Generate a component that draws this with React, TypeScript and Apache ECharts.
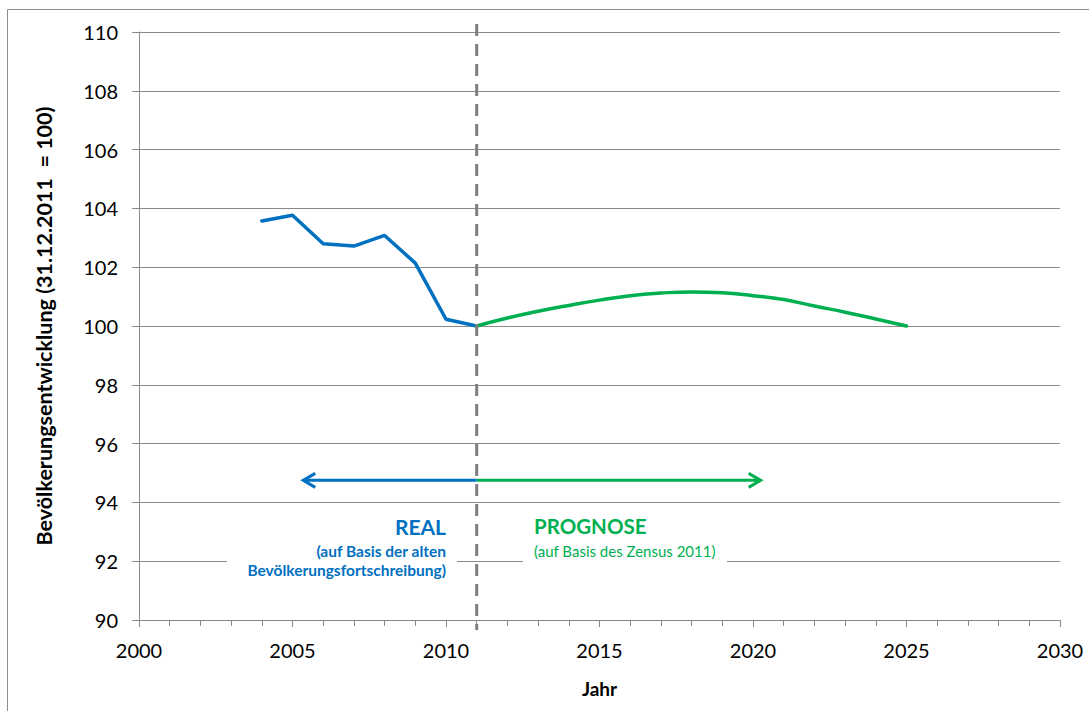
import React, { useEffect, useRef } from "react";
import * as echarts from "echarts";

const realYears = [2004, 2005, 2006, 2007, 2008, 2009, 2010, 2011];
const realValues = [103.57, 103.77, 102.8, 102.72, 103.08, 102.14, 100.23, 100.0];

const prognoseYears = [2011, 2012, 2013, 2014, 2015, 2016, 2017, 2018, 2019, 2020, 2021, 2022, 2023, 2024, 2025];
const prognoseValues = [100.0, 100.27, 100.5, 100.7, 100.88, 101.03, 101.12, 101.16, 101.13, 101.03, 100.9, 100.68, 100.47, 100.24, 100.0];

const dividerYear = 2011;
const arrowLevel = 94.75;
const arrowStarts = [2011, 2011];
const arrowEnds = [2005.35, 2020.25];

const xMin = 2000;
const xMax = 2030;
const xStep = 5;
const yMin = 90;
const yMax = 110;
const yStep = 2;

const BLUE = "#0070c0";
const GREEN = "#00b050";
const GREY = "#8a8a8a";
const FONT = "Lato";

export default function App() {
  const ref = useRef<HTMLDivElement>(null);

  useEffect(() => {
    if (!ref.current) return;
    const chart = echarts.init(ref.current, undefined, { renderer: "svg" });
    const arrowColors = [BLUE, GREEN];

    chart.setOption({
      animation: false,
      backgroundColor: "#ffffff",
      textStyle: { fontFamily: FONT },
      grid: { left: 139, right: 29, top: 32, bottom: 91, containLabel: false },
      xAxis: {
        type: "value",
        min: xMin,
        max: xMax,
        interval: xStep,
        name: "Jahr",
        nameLocation: "middle",
        nameGap: 59,
        nameTextStyle: { fontFamily: FONT, fontWeight: "bold", fontSize: 19, color: "#000" },
        axisLine: { show: true, onZero: false, lineStyle: { color: GREY, width: 1 } },
        axisTick: { show: true, length: 7, lineStyle: { color: GREY } },
        minorTick: { show: true, splitNumber: 5, length: 6, lineStyle: { color: GREY } },
        splitLine: { show: false },
        axisLabel: {
          fontFamily: FONT,
          fontSize: 20,
          color: "#000",
          margin: 20,
          formatter: (v: number) => String(v),
        },
      },
      yAxis: {
        type: "value",
        min: yMin,
        max: yMax,
        interval: yStep,
        name: "Bevölkerungsentwicklung (31.12.2011  = 100)",
        nameLocation: "middle",
        nameGap: 84,
        nameTextStyle: { fontFamily: FONT, fontWeight: "bold", fontSize: 21.5, color: "#000" },
        axisLine: { show: true, lineStyle: { color: GREY, width: 1 } },
        axisTick: { show: true, length: 7, lineStyle: { color: GREY } },
        splitLine: { show: true, lineStyle: { color: GREY, width: 1 } },
        axisLabel: { fontFamily: FONT, fontSize: 20, color: "#000", margin: 21 },
      },
      graphic: [
        {
          type: "rect",
          z: 5,
          shape: { x: 7.5, y: 9.5, width: 1200, height: 800 },
          style: { fill: "none", stroke: "#8c8c8c", lineWidth: 1 },
          silent: true,
        },
        {
          type: "rect",
          z: 5,
          shape: { x: 227, y: 510, width: 230, height: 78 },
          style: { fill: "#ffffff" },
        },
        {
          type: "rect",
          z: 5,
          shape: { x: 523, y: 510, width: 204, height: 78 },
          style: { fill: "#ffffff" },
        },
        {
          type: "text",
          z: 6,
          x: 446,
          y: 526,
          style: {
            text: "REAL",
            fill: BLUE,
            font: `bold 21px ${FONT}`,
            textAlign: "right",
            textVerticalAlign: "middle",
          },
        },
        {
          type: "text",
          z: 6,
          x: 446,
          y: 551,
          style: {
            text: "(auf Basis der alten",
            fill: BLUE,
            font: `bold 15.5px ${FONT}`,
            textAlign: "right",
            textVerticalAlign: "middle",
          },
        },
        {
          type: "text",
          z: 6,
          x: 446,
          y: 570,
          style: {
            text: "Bevölkerungsfortschreibung)",
            fill: BLUE,
            font: `bold 15.5px ${FONT}`,
            textAlign: "right",
            textVerticalAlign: "middle",
          },
        },
        {
          type: "text",
          z: 6,
          x: 534,
          y: 526,
          style: {
            text: "PROGNOSE",
            fill: GREEN,
            font: `bold 20.5px ${FONT}`,
            textAlign: "left",
            textVerticalAlign: "middle",
          },
        },
        {
          type: "text",
          z: 6,
          x: 534,
          y: 551,
          style: {
            text: "(auf Basis des Zensus 2011)",
            fill: GREEN,
            font: `15px ${FONT}`,
            textAlign: "left",
            textVerticalAlign: "middle",
          },
        },
      ],
      series: [
        {
          type: "line",
          name: "Real",
          data: realYears.map((y, i) => [y, realValues[i]]),
          showSymbol: false,
          symbol: "none",
          lineStyle: { color: BLUE, width: 3.5, cap: "round", join: "round" },
          z: 3,
        },
        {
          type: "line",
          name: "Prognose",
          data: prognoseYears.map((y, i) => [y, prognoseValues[i]]),
          showSymbol: false,
          symbol: "none",
          smooth: true,
          lineStyle: { color: GREEN, width: 3.5, cap: "round", join: "round" },
          z: 3,
        },
        {
          type: "custom",
          name: "arrows",
          z: 4,
          clip: false,
          data: arrowStarts.map((s, i) => [s, arrowEnds[i], arrowLevel]),
          renderItem: (params: any, api: any) => {
            const s = api.coord([api.value(0), api.value(2)]);
            const e = api.coord([api.value(1), api.value(2)]);
            const dir = e[0] > s[0] ? 1 : -1;
            const color = arrowColors[params.dataIndex];
            return {
              type: "group",
              children: [
                {
                  type: "line",
                  shape: { x1: s[0], y1: s[1], x2: e[0] - dir * 1.5, y2: e[1] },
                  style: { stroke: color, lineWidth: 3 },
                },
                {
                  type: "polyline",
                  shape: {
                    points: [
                      [e[0] - dir * 12, e[1] - 7],
                      [e[0], e[1]],
                      [e[0] - dir * 12, e[1] + 7],
                    ],
                  },
                  style: { stroke: color, lineWidth: 3, fill: "none", lineJoin: "miter" },
                },
              ],
            };
          },
        },
        {
          type: "custom",
          name: "divider",
          z: 5,
          clip: false,
          data: [[dividerYear]],
          renderItem: (params: any, api: any) => {
            const top = api.coord([api.value(0), yMax]);
            const bottom = api.coord([api.value(0), yMin]);
            return {
              type: "line",
              shape: { x1: top[0], y1: top[1] - 8, x2: bottom[0], y2: bottom[1] + 10 },
              style: { stroke: "#7f7f7f", lineWidth: 3, lineDash: [12, 8] },
            };
          },
        },
      ],
    });

    return () => chart.dispose();
  }, []);

  return (
    <div
      ref={ref}
      style={{ position: "fixed", left: 0, top: 0, width: 1089, height: 711, background: "#fff" }}
    />
  );
}
